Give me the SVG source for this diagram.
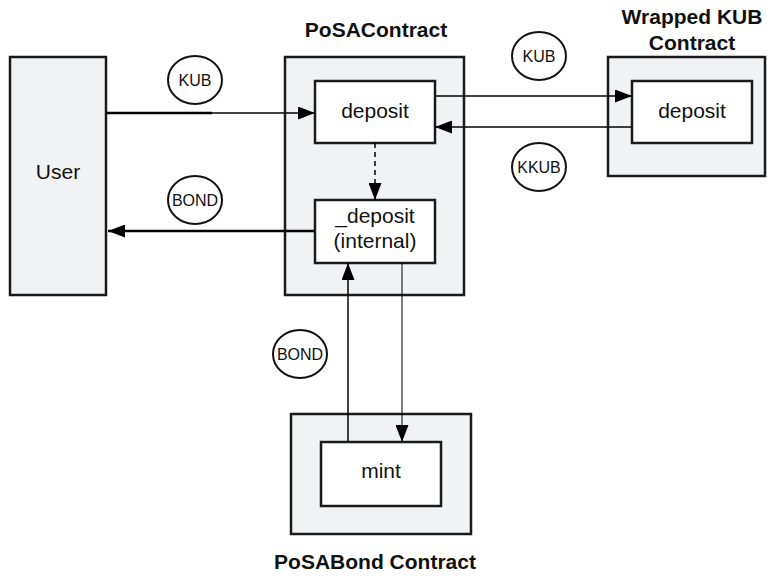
<svg xmlns="http://www.w3.org/2000/svg" width="767" height="576" viewBox="0 0 767 576">
<defs>
<marker id="ah" viewBox="0 0 17 13" refX="17" refY="6.5" markerWidth="17" markerHeight="13" markerUnits="userSpaceOnUse" orient="auto">
<path d="M0,0 L17,6.5 L0,13 Z" fill="#000"/>
</marker>
</defs>
<style>
.outer{fill:#f1f2f4;stroke:#1a1a1a;stroke-width:2.5}
.inner{fill:#fff;stroke:#1a1a1a;stroke-width:2.5}
.lbl{font-family:"Liberation Sans",Arial,sans-serif;font-size:21px;fill:#111;text-anchor:middle}
.title{font-family:"Liberation Sans",Arial,sans-serif;font-size:21px;font-weight:bold;fill:#111;text-anchor:middle}
.tok{fill:#fff;stroke:#111;stroke-width:2}
.tokt{font-family:"Liberation Sans",Arial,sans-serif;font-size:16px;fill:#111;text-anchor:middle}
.c{fill:none;stroke:#000;stroke-width:1.5}
.thick{stroke-width:2.5}
.thin{stroke-width:1}
</style>
<g id="user">
<rect class="outer" x="10" y="57" width="96" height="238"/>
<text class="lbl" x="58" y="179">User</text>
</g>
<g id="posa">
<rect class="outer" x="285" y="57" width="179" height="238"/>
<text class="title" x="376" y="37">PoSAContract</text>
</g>
<g id="posa-deposit">
<rect class="inner" x="315" y="81" width="120" height="62"/>
<text class="lbl" x="375" y="118">deposit</text>
</g>
<g id="posa-internal">
<rect class="inner" x="315" y="200" width="120" height="63"/>
<text class="lbl" x="375" y="223">_deposit</text>
<text class="lbl" x="375" y="248">(internal)</text>
</g>
<g id="wkub">
<rect class="outer" x="608" y="57" width="157" height="119"/>
<text class="title" x="692" y="24">Wrapped KUB</text>
<text class="title" x="692" y="50">Contract</text>
</g>
<g id="wkub-deposit">
<rect class="inner" x="632" y="81" width="120" height="62"/>
<text class="lbl" x="692" y="118">deposit</text>
</g>
<g id="bond">
<rect class="outer" x="291" y="414" width="180" height="120"/>
<text class="title" x="375" y="569">PoSABond Contract</text>
</g>
<g id="bond-mint">
<rect class="inner" x="321" y="442" width="120" height="64"/>
<text class="lbl" x="381" y="478">mint</text>
</g>
<g id="tokens">
<ellipse class="tok" cx="195" cy="80" rx="27" ry="24"/>
<text class="tokt" x="195" y="86">KUB</text>
<ellipse class="tok" cx="195" cy="200" rx="27" ry="24"/>
<text class="tokt" x="195" y="206">BOND</text>
<ellipse class="tok" cx="539" cy="56" rx="27" ry="24"/>
<text class="tokt" x="539" y="62">KUB</text>
<ellipse class="tok" cx="539" cy="167" rx="27" ry="24"/>
<text class="tokt" x="539" y="173">KKUB</text>
<ellipse class="tok" cx="300" cy="354" rx="27" ry="24"/>
<text class="tokt" x="300" y="360">BOND</text>
</g>
<g id="connectors">
<path class="c thick" d="M106,113 H212"/>
<path class="c" d="M211,113 H315" marker-end="url(#ah)"/>
<path class="c thick" d="M315,231 H108" marker-end="url(#ah)"/>
<path class="c" d="M435,96 H632" marker-end="url(#ah)"/>
<path class="c" d="M632,127 H435" marker-end="url(#ah)"/>
<path class="c" d="M375,143 V200" stroke-dasharray="5,4" marker-end="url(#ah)"/>
<path class="c" d="M348,442 V263" marker-end="url(#ah)"/>
<path class="c thin" d="M402,263 V442" marker-end="url(#ah)"/>
</g>
</svg>
